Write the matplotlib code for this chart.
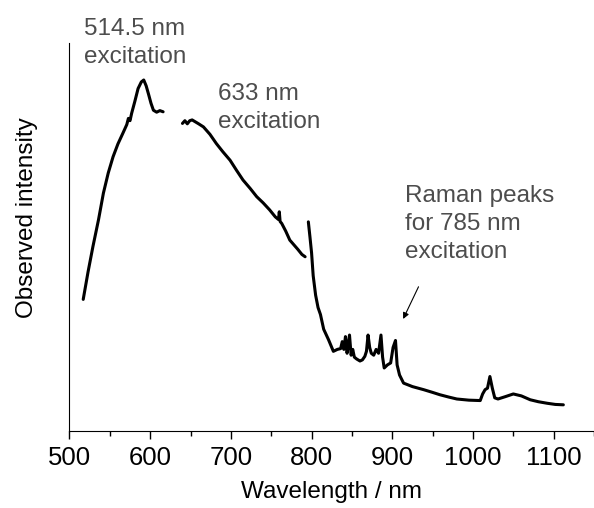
import numpy as np
import matplotlib.pyplot as plt
from matplotlib.ticker import MultipleLocator

plt.rcParams['font.family'] = ['Liberation Sans', 'DejaVu Sans']

# 514.5 nm excitation segment
wl_514 = [517, 523, 529, 536, 542, 548, 554, 560, 566, 571, 573, 575, 577, 581, 585, 589, 592, 595, 598, 601, 604, 608, 612, 616]
int_514 = [0.339, 0.41, 0.475, 0.545, 0.613, 0.665, 0.707, 0.74, 0.767, 0.79, 0.806, 0.80, 0.819, 0.85, 0.883, 0.90, 0.905, 0.89, 0.868, 0.845, 0.827, 0.822, 0.826, 0.823]

# 633 nm excitation segment
wl_633 = [640, 643, 646, 649, 652, 656, 660, 666, 674, 682, 690, 699, 707, 715, 724, 732, 740, 748, 755, 759, 760, 761, 763, 768, 773, 778, 783, 788, 792]
int_633 = [0.793, 0.80, 0.792, 0.80, 0.802, 0.797, 0.792, 0.784, 0.765, 0.741, 0.72, 0.698, 0.672, 0.647, 0.625, 0.604, 0.588, 0.570, 0.552, 0.545, 0.565, 0.54, 0.535, 0.515, 0.492, 0.48, 0.468, 0.455, 0.449]

# 785 nm excitation segment
wl_785 = [796, 798, 800, 802, 805, 808, 811, 815, 821, 827, 832, 836, 838, 840, 842, 844, 845, 847, 849, 851, 853, 856, 860, 863, 866, 868, 870, 872, 874, 877, 880, 883, 886, 888, 890, 894, 898, 901, 904, 906, 909, 914, 925, 939, 950, 959, 970, 980, 995, 1009, 1012, 1015, 1018, 1021, 1024, 1027, 1031, 1040, 1050, 1060, 1071, 1081, 1092, 1102, 1112]
int_785 = [0.539, 0.50, 0.459, 0.40, 0.35, 0.318, 0.30, 0.262, 0.235, 0.205, 0.21, 0.212, 0.23, 0.21, 0.243, 0.20, 0.215, 0.247, 0.195, 0.21, 0.19, 0.185, 0.18, 0.183, 0.192, 0.205, 0.247, 0.215, 0.2, 0.195, 0.21, 0.2, 0.247, 0.19, 0.162, 0.17, 0.175, 0.215, 0.233, 0.17, 0.144, 0.123, 0.114, 0.106, 0.099, 0.093, 0.087, 0.082, 0.079, 0.078, 0.095, 0.106, 0.11, 0.14, 0.11, 0.085, 0.082, 0.088, 0.095, 0.09, 0.08, 0.075, 0.071, 0.068, 0.067]

fig = plt.figure(figsize=(5.94, 5.08), dpi=100)
ax = fig.add_axes([0.117, 0.152, 0.883, 0.763])

for wl, val in [(wl_514, int_514), (wl_633, int_633), (wl_785, int_785)]:
    ax.plot(wl, val, color='black', lw=2.2, solid_joinstyle='round', solid_capstyle='round')

ax.set_xlim(500, 1150)
ax.set_ylim(0, 1)
ax.spines['top'].set_visible(False)
ax.spines['right'].set_visible(False)
ax.set_yticks([])
ax.xaxis.set_major_locator(MultipleLocator(100))
ax.xaxis.set_minor_locator(MultipleLocator(50))
ax.tick_params(axis='x', which='major', direction='out', length=6, width=1, labelsize=18.5, pad=5)
ax.tick_params(axis='x', which='minor', direction='out', length=3.5, width=1)
ax.set_xlabel('Wavelength / nm', fontsize=17.5, labelpad=8)
ax.set_ylabel('Observed intensity', fontsize=17.5)
ax.yaxis.set_label_coords(-0.06, 0.55)

txt = dict(color='#4d4d4d', fontsize=17.5, va='top', ha='left', linespacing=1.35, clip_on=False)
ax.text(517.5, 1.065, '514.5 nm\nexcitation', **txt)
ax.text(684, 0.897, '633 nm\nexcitation', **txt)
ax.text(916, 0.635, 'Raman peaks\nfor 785 nm\nexcitation', **txt)

ax.annotate('', xy=(912, 0.282), xytext=(934, 0.378),
            arrowprops=dict(arrowstyle='-|>', color='black', lw=0.8, mutation_scale=9))

fig.savefig('out.png', dpi=100)
